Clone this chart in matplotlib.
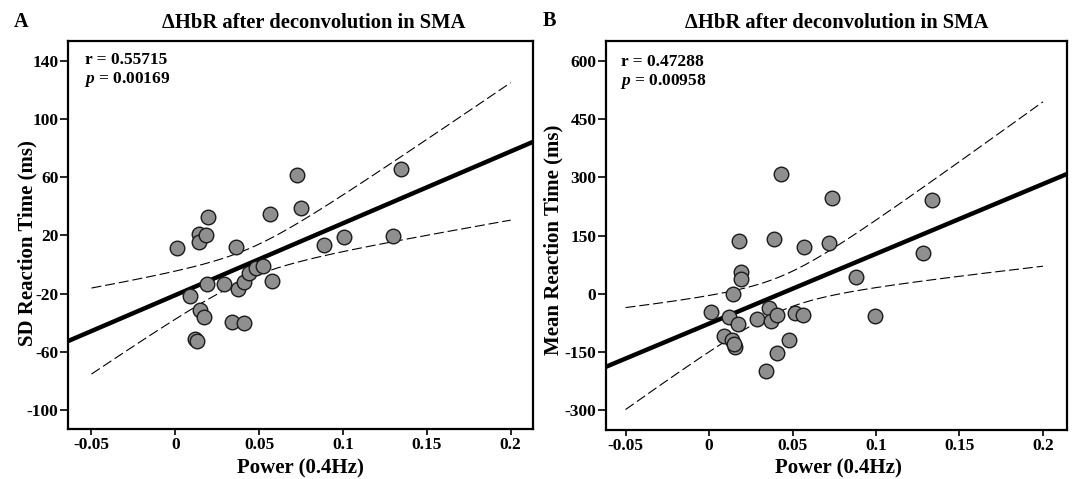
import numpy as np
import matplotlib
matplotlib.use("Agg")
import matplotlib.pyplot as plt

plt.rcParams['font.family'] = ['Liberation Serif', 'DejaVu Serif']
plt.rcParams['font.weight'] = 'bold'
plt.rcParams['mathtext.fontset'] = 'custom'
plt.rcParams['mathtext.it'] = 'Liberation Serif:italic:bold'
plt.rcParams['mathtext.rm'] = 'Liberation Serif:bold'
plt.rcParams['axes.unicode_minus'] = False

# ---------------- data ----------------
power_a = [0.001, 0.0144, 0.0144, 0.018, 0.0194, 0.036, 0.0725, 0.0747, 0.0567, 0.1346,
           0.1005, 0.0888, 0.1296, 0.019, 0.0086, 0.029, 0.0371, 0.041, 0.044, 0.048,
           0.052, 0.0575, 0.015, 0.0174, 0.034, 0.041, 0.0116, 0.013]
sd_rt = [11.6, 21.2, 15.7, 20.3, 32.7, 12.1, 61.6, 38.7, 34.6, 65.9,
         19.2, 13.2, 19.8, -13.2, -21.6, -13.6, -16.6, -11.8, -5.6, -2.6,
         -1.0, -11.3, -31.5, -36.5, -39.3, -40.4, -51.4, -52.6]

power_b = [0.0432, 0.0737, 0.1334, 0.0178, 0.0391, 0.057, 0.0718, 0.1282, 0.0191, 0.0191,
           0.0879, 0.0145, 0.0012, 0.0121, 0.0173, 0.0289, 0.0357, 0.0369, 0.0407, 0.0513,
           0.0562, 0.0995, 0.0088, 0.0138, 0.0154, 0.015, 0.0477, 0.0407, 0.0339]
mean_rt = [308.6, 247.5, 240.8, 135.8, 141.8, 119.6, 131.5, 105.7, 56.7, 37.1,
           43.0, -1.6, -48.0, -59.4, -78.2, -65.3, -36.2, -70.4, -55.8, -49.8,
           -55.0, -57.6, -108.3, -119.4, -136.7, -129.8, -119.4, -153.7, -198.6]

titles = ["\u0394HbR after deconvolution in SMA", "\u0394HbR after deconvolution in SMA"]
panel_letters = ["A", "B"]
ylabels = ["SD Reaction Time (ms)", "Mean Reaction Time (ms)"]
xlabel = "Power (0.4Hz)"
stats_r = ["r = 0.55715", "r = 0.47288"]
stats_p = ["$p$ = 0.00169", "$p$ = 0.00958"]
xticks = [-0.05, 0, 0.05, 0.1, 0.15, 0.2]
xticklabels = ["-0.05", "0", "0.05", "0.1", "0.15", "0.2"]
yticks_a = [-100, -60, -20, 20, 60, 100, 140]
yticks_b = [-300, -150, 0, 150, 300, 450, 600]
t_crit = 2.05  # ~t(0.975, n-2)

W, H = 1072, 479
fig = plt.figure(figsize=(W / 100, H / 100), dpi=100)

def fx(px):
    return px / W

def fy(py):
    return 1 - py / H

def box(l, t, r, b):
    return [fx(l), fy(b), fx(r) - fx(l), fy(t) - fy(b)]

axA = fig.add_axes(box(68, 41, 533, 428.5))
axB = fig.add_axes(box(606, 41, 1067, 430))

def panel(ax, x, y, yticks, ylim, xlim):
    x = np.asarray(x, float)
    y = np.asarray(y, float)
    n = len(x)
    b1, b0 = np.polyfit(x, y, 1)
    resid = y - (b0 + b1 * x)
    s = np.sqrt(np.sum(resid ** 2) / (n - 2))
    sxx = np.sum((x - x.mean()) ** 2)
    xl = np.linspace(xlim[0], xlim[1], 50)
    ax.plot(xl, b0 + b1 * xl, color='black', lw=3.2, zorder=2, solid_capstyle='butt')
    xc = np.linspace(-0.05, 0.2, 200)
    se = s * np.sqrt(1.0 / n + (xc - x.mean()) ** 2 / sxx)
    ax.plot(xc, b0 + b1 * xc + t_crit * se, color='black', lw=0.8, ls=(0, (9, 3.5)), zorder=2)
    ax.plot(xc, b0 + b1 * xc - t_crit * se, color='black', lw=0.8, ls=(0, (9, 3.5)), zorder=2)
    ax.scatter(x, y, s=110, c='#8f8f8f', edgecolors='#1a1a1a', linewidths=1.0, zorder=3)
    ax.set_xlim(xlim)
    ax.set_ylim(ylim)
    ax.set_xticks(xticks)
    ax.set_xticklabels(xticklabels)
    ax.set_yticks(yticks)
    ax.tick_params(axis='both', labelsize=12.5, width=1.2, direction='out', pad=1.5)
    ax.tick_params(axis='x', length=4.5)
    ax.tick_params(axis='y', length=5.5)
    for lab in ax.get_xticklabels() + ax.get_yticklabels():
        lab.set_fontweight('bold')
    for sp in ax.spines.values():
        sp.set_linewidth(1.6)

panel(axA, power_a, sd_rt, yticks_a, (-113, 154), (-0.064, 0.2133))
panel(axB, power_b, mean_rt, yticks_b, (-351.6, 651.6), (-0.0617, 0.2144))

# titles
fig.text(fx(314), fy(28), titles[0], fontsize=14.8, fontweight='bold', ha='center', va='baseline')
fig.text(fx(837), fy(28), titles[1], fontsize=14.8, fontweight='bold', ha='center', va='baseline')
# panel letters
fig.text(fx(14), fy(27), panel_letters[0], fontsize=14.5, fontweight='bold', ha='left', va='baseline')
fig.text(fx(543), fy(26), panel_letters[1], fontsize=14.5, fontweight='bold', ha='left', va='baseline')
# axis labels
fig.text(fx(300), fy(473), xlabel, fontsize=15, fontweight='bold', ha='center', va='baseline')
fig.text(fx(838), fy(473), xlabel, fontsize=15, fontweight='bold', ha='center', va='baseline')
fig.text(fx(32), fy(243.5), ylabels[0], fontsize=15, fontweight='bold', rotation=90,
         rotation_mode='anchor', ha='center', va='baseline')
fig.text(fx(558), fy(240), ylabels[1], fontsize=15, fontweight='bold', rotation=90,
         rotation_mode='anchor', ha='center', va='baseline')
# stats
fig.text(fx(85), fy(64), stats_r[0], fontsize=12.5, fontweight='bold', ha='left', va='baseline')
fig.text(fx(84), fy(83), stats_p[0], fontsize=12.5, fontweight='bold', ha='left', va='baseline')
fig.text(fx(621), fy(66), stats_r[1], fontsize=12.5, fontweight='bold', ha='left', va='baseline')
fig.text(fx(620), fy(85), stats_p[1], fontsize=12.5, fontweight='bold', ha='left', va='baseline')

fig.savefig("out.png", dpi=100)
